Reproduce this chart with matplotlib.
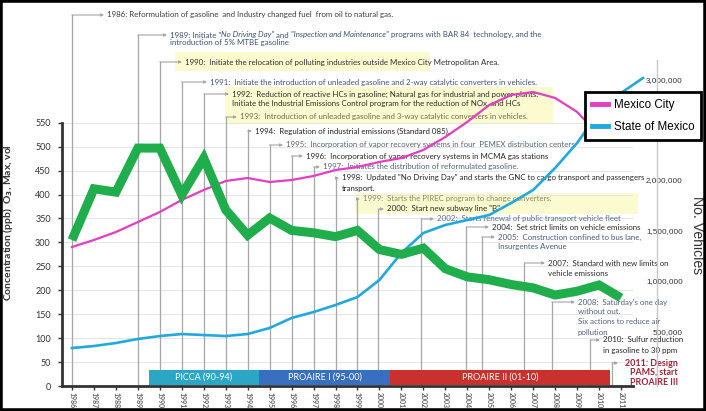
import matplotlib
matplotlib.use('Agg')
import matplotlib.pyplot as plt
from matplotlib import font_manager
from matplotlib.lines import Line2D
from matplotlib.patches import Rectangle

# ---- values ----
years = list(range(1986, 2012))
ozone_max = [305, 412, 405, 497, 497, 399, 476, 368, 315, 351,
             325, 320, 312, 325, 285, 275, 288, 245, 228, 222,
             212, 205, 190, 198, 211, 184]

# registered vehicles, millions
city_years = list(range(1986, 2012))
mexico_city = [1.334, 1.404, 1.483, 1.582, 1.682, 1.801, 1.900, 1.989, 2.019, 1.979,
               1.999, 2.039, 2.098, 2.128, 2.178, 2.217, 2.297, 2.426, 2.575, 2.743,
               2.842, 2.872, 2.813, 2.674, 2.445, 2.396]
state_years = list(range(1986, 2013))
state_of_mexico = [0.332, 0.352, 0.382, 0.422, 0.451, 0.471, 0.461, 0.451, 0.471, 0.531,
                   0.630, 0.689, 0.759, 0.838, 1.007, 1.275, 1.473, 1.553, 1.602, 1.652,
                   1.771, 1.900, 2.118, 2.366, 2.674, 2.862, 3.011]
vehicle_ticks = [500000, 1000000, 1500000, 2000000, 3000000]

prog_names = ['PICCA (90-94)', 'PROAIRE I (95-00)', 'PROAIRE II (01-10)']
prog_start = [1990, 1995, 2001]
prog_end = [1994, 2000, 2010]

note_texts = [
    ['1986: Reformulation of gasoline  and Industry changed fuel  from oil to natural gas.'],
    ['1989: Initiate "*No Driving Day"* and* "Inspection and Maintenance"* programs with BAR 84  technology, and the',
     'introduction of 5% MTBE gasoline'],
    ['1990:  Initiate the relocation of polluting industries outside Mexico City Metropolitan Area.'],
    ['1991:  Initiate the introduction of unleaded gasoline and 2-way catalytic converters in vehicles.'],
    ['1992:  Reduction of reactive HCs in gasoline; Natural gas for industrial and power plants.',
     'Initiate the Industrial Emissions Control program for the reduction of NOx  and HCs'],
    ['1993:  Introduction of unleaded gasoline and 3-way catalytic converters in vehicles.'],
    ['1994:  Regulation of industrial emissions (Standard 085).'],
    ['1995:  Incorporation of vapor recovery systems in four  PEMEX distribution centers'],
    ['1996:  Incorporation of vapor recovery systems in MCMA gas stations'],
    ['1997:  Initiates the distribution of reformulated gasoline.'],
    ['1998:  Updated "No Driving Day" and starts the GNC to cargo transport and passengers',
     'transport.'],
    ['1999:  Starts the PIREC program to change converters.'],
    ['2000:  Start new subway line "B"'],
    ['2002:  Starts renewal of public transport vehicle fleet'],
    ['2004:  Set strict limits on vehicle emissions'],
    ['2005:  Construction confined to bus lane,', 'Insurgentes Avenue'],
    ['2007:  Standard with new limits on', 'vehicle emissions'],
    ["2008:  Saturday's one day", 'without out.', 'Six actions to reduce air', 'pollution'],
    ['2010:  Sulfur reduction', 'in gasoline to 30 ppm'],
    ['2011: Design', 'PAMS, start', 'PROAIRE III'],
]

# ---- layout (pixels of the 706x411 picture) ----
W, H, DPI = 706, 411, 100
AX_L, AX_R, AX_B, AX_T = 62, 633, 386, 10
X_LIM = (1985.545, 2011.547)
PPB_TOP = (AX_B - AX_T) / 0.4787
VEH_LIM = (-44.6e3, 3.6855e6)
NOTE_SIZE = 5.7

# line x (year), text x px, first row y px, row step px, colour, weight, align
note_layout = [
    (1986, 107, 15, 7, '#3c3c3c', 'normal', 'left'),
    (1989, 170, 35, 8, '#3d5273', 'normal', 'left'),
    (1990, 185, 62, 10, '#2e2e2e', 'normal', 'left'),
    (1991, 210, 82, 10, '#3e5575', 'normal', 'left'),
    (1992, 232, 94, 10, '#2c2c2c', 'normal', 'left'),
    (1993, 240, 117, 10, '#6a7048', 'normal', 'left'),
    (1994, 255, 131, 10, '#222222', 'normal', 'left'),
    (1995, 286, 145, 10, '#5a6578', 'normal', 'left'),
    (1996, 306, 156, 10, '#262626', 'normal', 'left'),
    (1997, 323, 167, 10, '#55627c', 'normal', 'left'),
    (1998, 342, 178, 10.5, '#262626', 'normal', 'left'),
    (1999, 363, 199, 10, '#8a8a68', 'normal', 'left'),
    (1999.95, 387, 209, 10, '#2a2a2a', 'normal', 'left'),
    (2001.9, 437, 219, 10, '#5a6a8a', 'normal', 'left'),
    (2003.95, 492, 227, 10, '#262626', 'normal', 'left'),
    (2004.65, 498, 237, 10, '#4a5a80', 'normal', 'left'),
    (2006.6, 548, 263, 10.5, '#2a2a2a', 'normal', 'left'),
    (2007.85, 578, 302, 10, '#55607a', 'normal', 'left'),
    (2009.6, 603, 340, 10, '#262626', 'normal', 'left'),
    (2010.6, 678, 363, 9.5, '#9b2335', 'bold', 'right'),
]
yellow_boxes = [(175, 52, 430, 71), (225, 87, 553, 123), (355, 193, 638, 214)]

GREEN = '#1fae4b'
PINK = '#e23fc2'
BLUE = '#21a9dd'
LEADER = '#a6a6a6'
prog_colors = ['#2ba6c4', '#386fbf', '#c8312d']

names = {f.name for f in font_manager.fontManager.ttflist}
NARROW = 'Liberation Sans Narrow' if 'Liberation Sans Narrow' in names else 'Liberation Sans'
NARROW_SCALE = 1.0 if NARROW == 'Liberation Sans Narrow' else 0.84
plt.rcParams['font.family'] = ['Lato', 'DejaVu Sans']


def yr_at(px):
    return X_LIM[0] + (px - AX_L) / (AX_R - AX_L) * (X_LIM[1] - X_LIM[0])


def ppb_at(py):
    return (AX_B - py) / (AX_B - AX_T) * PPB_TOP


fig = plt.figure(figsize=(W / DPI, H / DPI), dpi=DPI)
ax = fig.add_axes([AX_L / W, 1 - AX_B / H, (AX_R - AX_L) / W, (AX_B - AX_T) / H])
ax2 = ax.twinx()

# left axis (ozone)
ax.set_xlim(*X_LIM)
ax.set_ylim(0, PPB_TOP)
ax.set_xticks(years)
ax.set_xticklabels([str(y) for y in years], rotation=270, fontsize=5, color='#666666',
                   fontweight='bold')
ax.set_yticks(range(0, 551, 50))
ax.tick_params(axis='x', length=3, width=1, color='#333333', pad=1.5)
ax.tick_params(axis='y', length=3, width=1, color='#333333', labelsize=6.5,
               labelcolor='#333333', pad=5)
ax.spines['left'].set_bounds(0, 550)
for side in ('left', 'bottom'):
    ax.spines[side].set_linewidth(2)
    ax.spines[side].set_color('#333333')
ax.spines['top'].set_visible(False)
ax.spines['right'].set_visible(False)
ax.grid(axis='y', color='#e6e6e6', lw=0.8)
ax.set_axisbelow(True)
ax.set_ylabel(r'Concentration (ppb)  O$_\mathbf{3}$, Max, vol', fontsize=7.5,
              fontweight='bold', color='#333333')
ax.yaxis.set_label_coords((15 - AX_L) / (AX_R - AX_L), (AX_B - 223) / (AX_B - AX_T))

# yellow highlight boxes behind some notes
for x0, y0, x1, y1 in yellow_boxes:
    ax.add_patch(Rectangle((x0 / W, 1 - y1 / H), (x1 - x0) / W, (y1 - y0) / H,
                           transform=fig.transFigure, facecolor='#fbfbcf',
                           edgecolor='none', zorder=0.5, clip_on=False))


def draw_line_text(x, y, text, color, weight, ha):
    size = NOTE_SIZE + 0.7 if weight == 'bold' else NOTE_SIZE
    parts = text.split('*')
    prev = None
    for k, part in enumerate(parts):
        if not part:
            continue
        style = 'italic' if k % 2 else 'normal'
        if prev is None:
            prev = ax.text(x, y, part, fontsize=size, color=color, fontweight=weight,
                           fontstyle=style, ha=ha, va='center', zorder=2, clip_on=False)
        else:
            prev = ax.annotate(part, xy=(1, 0), xycoords=prev, fontsize=size,
                               color=color, fontweight=weight, fontstyle=style,
                               ha='left', va='bottom', zorder=2, annotation_clip=False)


# event notes with their leader lines
for lines, (lx, tx, ty, step, color, weight, ha) in zip(note_texts, note_layout):
    top = ppb_at(ty)
    ax.plot([lx, lx], [0, top], color=LEADER, lw=0.9, zorder=1, clip_on=False)
    start = tx - 3 if ha == 'left' else tx - 60
    ax.annotate('', xy=(yr_at(start), top), xytext=(lx, top),
                arrowprops=dict(arrowstyle='-|>', color=LEADER, lw=0.8, mutation_scale=4,
                                shrinkA=0, shrinkB=0), annotation_clip=False)
    for i, line in enumerate(lines):
        draw_line_text(yr_at(tx), ppb_at(ty + i * step), line, color, weight, ha)

# programme bars
bar_lo, bar_hi = ppb_at(385), ppb_at(370)
for name, s, e, c in zip(prog_names, prog_start, prog_end, prog_colors):
    ax.barh((bar_lo + bar_hi) / 2, e - s + 1, left=s - 0.5, height=bar_hi - bar_lo,
            color=c, zorder=3)
    ax.text((s + e) / 2, (bar_lo + bar_hi) / 2, name, color='white', fontsize=6.5,
            ha='center', va='center', zorder=4)

# right axis (vehicles); spine position first, it resets the ticks
for side in ('top', 'left', 'bottom'):
    ax2.spines[side].set_visible(False)
ax2.spines['right'].set_position(('axes', (657 - AX_L) / (AX_R - AX_L)))
ax2.spines['right'].set_color('#c8c8c8')
ax2.spines['right'].set_linewidth(1)
ax2.set_ylim(*VEH_LIM)
ax2.spines['right'].set_bounds(VEH_LIM[0], 3.19e6)
ax2.set_yticks(vehicle_ticks, labels=[f'{v:,}' for v in vehicle_ticks])
ax2.tick_params(axis='y', length=0, pad=18.5, labelsize=7 * NARROW_SCALE,
                labelcolor='#333333')

ax2.plot(city_years, [v * 1e6 for v in mexico_city], color=PINK, lw=1.6, zorder=3)
ax2.plot(state_years, [v * 1e6 for v in state_of_mexico], color=BLUE, lw=1.9, zorder=3,
         clip_on=False)
ax2.plot(years, ozone_max, color=GREEN, lw=6.5, solid_joinstyle='miter',
         solid_capstyle='butt', zorder=4, transform=ax.transData)

fig.text(697 / W, 1 - 235 / H, 'No. Vehicles', rotation=270, ha='center', va='center',
         fontsize=12 * NARROW_SCALE, family=NARROW, color='#333333')

handles = [Line2D([], [], color=PINK, lw=3.5), Line2D([], [], color=BLUE, lw=3.5)]
leg = ax2.legend(handles, ['Mexico City', 'State of Mexico'], loc='upper left',
                 bbox_to_anchor=(585 / W, 1 - 92 / H), bbox_transform=fig.transFigure,
                 borderaxespad=0, frameon=True, fancybox=False, framealpha=1,
                 edgecolor='black', prop={'family': NARROW, 'size': 10 * NARROW_SCALE},
                 handlelength=1.4, handletextpad=0.45, labelspacing=0.85, borderpad=0.6)
leg.get_frame().set_linewidth(2)
leg.set_zorder(10)

fig.add_artist(Rectangle((0, 0), 1, 1, transform=fig.transFigure, fill=False,
                         edgecolor='black', lw=4, zorder=20))

for lbl in ax2.get_yticklabels():
    lbl.set_horizontalalignment('right')
    lbl.set_family(NARROW)

fig.savefig('out.png', dpi=DPI)
